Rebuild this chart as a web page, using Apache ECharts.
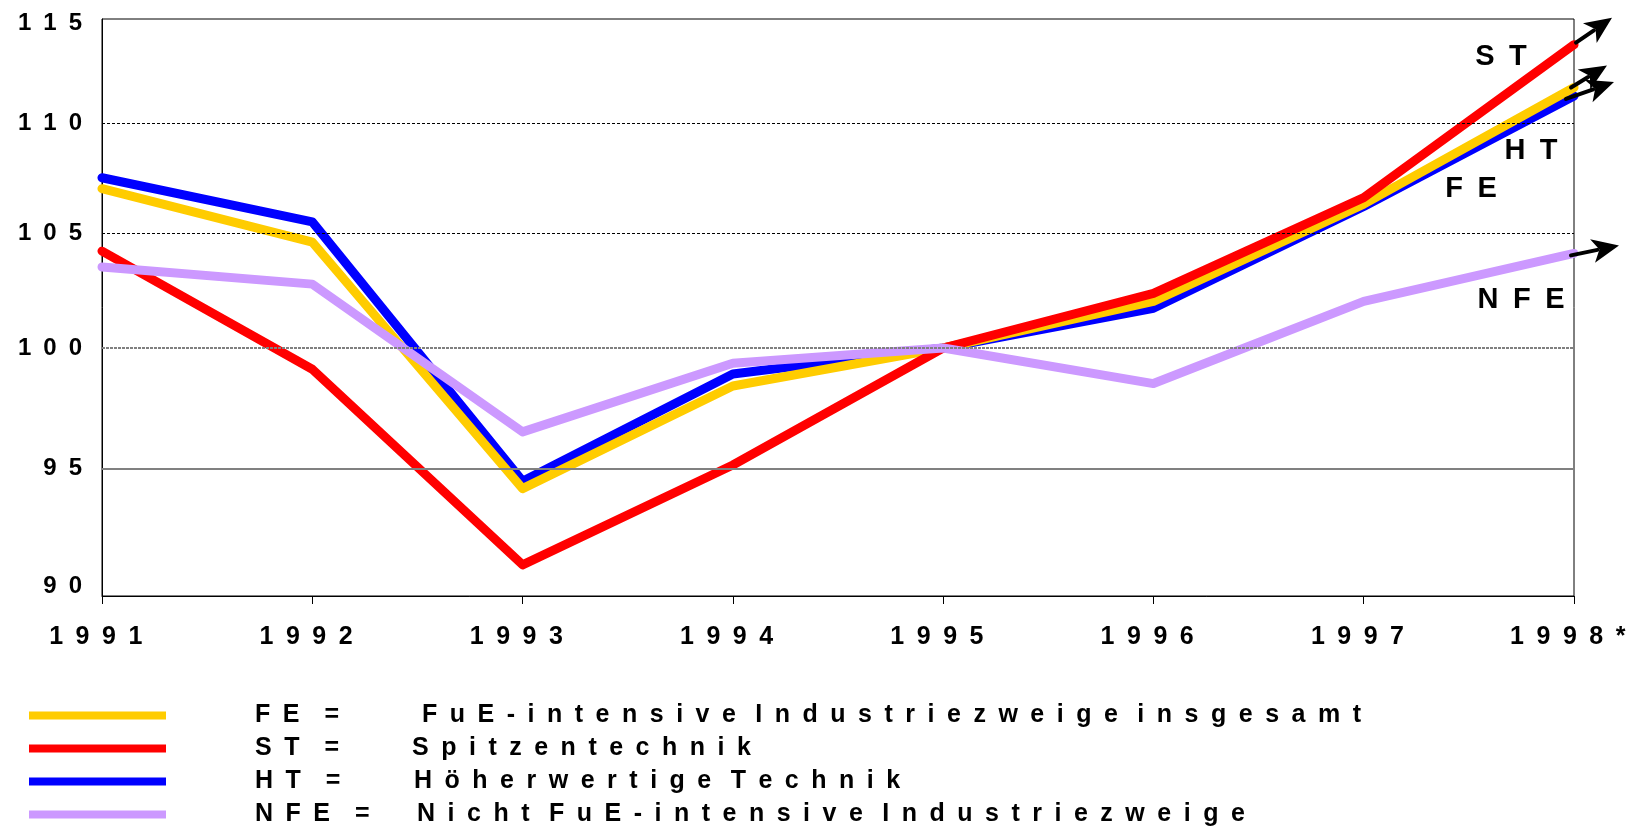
<!DOCTYPE html>
<html>
<head>
<meta charset="utf-8">
<script src="https://cdn.jsdelivr.net/npm/echarts@6/dist/echarts.min.js"></script>
<style>
html,body{margin:0;padding:0;background:#fff;}
#chart{width:1634px;height:830px;}
</style>
</head>
<body>
<div id="chart"></div>
<script>
// Daten (Index 1995 = 100)
var years = ['1991', '1992', '1993', '1994', '1995', '1996', '1997', '1998*'];
var yTicks = [90, 95, 100, 105, 110, 115];
var fe  = [107.0, 104.6, 94.2, 98.4, 100, 102.0, 106.3, 111.7];
var st  = [104.2, 99.1, 91.2, 95.15, 100, 102.35, 106.6, 113.75];
var ht  = [107.5, 105.5, 94.5, 98.9, 100, 101.7, 106.2, 111.3];
var nfe = [103.5, 102.75, 96.5, 99.35, 100, 98.5, 102.0, 104.1];
var codes = ['FE', 'ST', 'HT', 'NFE'];
var labels = ['FuE-intensive Industriezweige insgesamt', 'Spitzentechnik', 'Höherwertige Technik', 'Nicht FuE-intensive Industriezweige'];

var FONT = "'Liberation Sans', Arial, sans-serif";
var S = '\u2002';
// gesperrte Schrift wie im Original
function sp(s) {
    return s.split(' ').map(function (w) { return w.split('').join(S); }).join(S + ' ');
}

var chart = echarts.init(document.getElementById('chart'));

var lbl = {fontSize: 25, fontWeight: 'bold', fontFamily: FONT, color: '#000'};
var lgd = Object.assign({lineHeight: 25}, lbl);
var richCodes = {};
var descOffset = [167, 157, 159, 162];
codes.forEach(function (c, i) {
    richCodes['c' + i] = Object.assign({width: descOffset[i], padding: [0, 0, 0, 84]}, lgd);
});
richCodes.d = Object.assign({}, lgd);

var yl = {fontSize: 24, fontWeight: 'bold', fontFamily: FONT, color: '#000'};

function lineSeries(name, data, color) {
    return {
        name: name,
        type: 'line',
        data: data,
        showSymbol: false,
        symbol: 'none',
        lineStyle: {color: color, width: 9, cap: 'round', join: 'round'},
        itemStyle: {color: color},
        z: 3
    };
}

chart.setOption({
    animation: false,
    backgroundColor: '#fff',
    grid: {left: 102, right: 60, top: 19, bottom: 234, show: true, borderColor: '#000', borderWidth: 1, outerBoundsMode: 'none', containLabel: false},
    legend: {
        data: codes,
        orient: 'vertical',
        left: 29,
        top: 703,
        height: 200,
        padding: 0,
        itemWidth: 137,
        itemHeight: 8,
        itemGap: 8,
        icon: 'rect',
        selectedMode: false,
        formatter: function (name) {
            var i = codes.indexOf(name);
            return '{c' + i + '|' + sp(name) + S + S + '=}{d|' + sp(labels[i]) + '}';
        },
        textStyle: Object.assign({rich: richCodes}, lgd)
    },
    xAxis: {
        type: 'category',
        data: years,
        boundaryGap: false,
        axisLine: {lineStyle: {color: '#000', width: 1}},
        axisTick: {show: true, length: 8, interval: 0, lineStyle: {color: '#000'}},
        axisLabel: Object.assign({
            interval: 0,
            margin: 29,
            formatter: function (v) { return sp(v) + S; }
        }, lbl),
        splitLine: {show: false}
    },
    yAxis: {
        type: 'log',
        logBase: 10,
        min: 90,
        max: 115,
        axisLine: {show: true, lineStyle: {color: '#000', width: 1}},
        axisTick: {show: false},
        splitLine: {show: false},
        axisLabel: Object.assign({
            customValues: yTicks,
            margin: 20,
            rich: {
                lo: Object.assign({padding: [0, 0, 20, 0]}, yl),
                hi: Object.assign({padding: [8, 0, 0, 0]}, yl)
            },
            formatter: function (v) {
                var t = sp(String(Math.round(v)));
                if (Math.round(v) === yTicks[0]) return '{lo|' + t + '}';
                if (Math.round(v) === yTicks[yTicks.length - 1]) return '{hi|' + t + '}';
                return t;
            }
        }, yl)
    },
    series: [
        {
            name: 'grid',
            type: 'line',
            data: [],
            z: 1,
            markLine: {
                silent: true,
                symbol: ['none', 'none'],
                label: {show: false},
                data: [
                    {yAxis: 95, lineStyle: {type: 'solid', color: '#808080', width: 2}},
                    {yAxis: 100, lineStyle: {type: [3, 1], color: '#808080', width: 2}},
                    {yAxis: 105, lineStyle: {type: [3, 2], color: '#000', width: 1}},
                    {yAxis: 110, lineStyle: {type: [3, 2], color: '#000', width: 1}}
                ]
            }
        },
        lineSeries('HT', ht, '#0000ff'),
        lineSeries('FE', fe, '#ffcc00'),
        lineSeries('ST', st, '#ff0000'),
        lineSeries('NFE', nfe, '#cc99ff')
    ]
});

// Pfeile am Ende der Linien + Kürzel
function arrow(x1, y1, x2, y2) {
    var dx = x2 - x1, dy = y2 - y1, L = Math.sqrt(dx * dx + dy * dy);
    var ux = dx / L, uy = dy / L, hl = 27, hw = 12;
    var bx = x2 - ux * hl, by = y2 - uy * hl;
    return [
        {type: 'line', shape: {x1: x1, y1: y1, x2: bx + ux * 5, y2: by + uy * 5}, style: {stroke: '#000', lineWidth: 4, lineCap: 'round'}, z: 10},
        {type: 'polygon', shape: {points: [[x2, y2], [bx - uy * hw, by + ux * hw], [bx + ux * 7, by + uy * 7], [bx + uy * hw, by - ux * hw]]}, style: {fill: '#000'}, z: 10}
    ];
}
var last = years.length - 1;
var arrowSpec = [
    {data: st, s: [2, -2], t: [38, -27]},
    {data: fe, s: [-3, 0], t: [33, -22]},
    {data: ht, s: [-8, 3], t: [40, -14]},
    {data: nfe, s: [-3, 2], t: [45, -8]}
];
var els = [];
arrowSpec.forEach(function (a) {
    var p = chart.convertToPixel({xAxisIndex: 0, yAxisIndex: 0}, [years[last], a.data[last]]);
    els = els.concat(arrow(p[0] + a.s[0], p[1] + a.s[1], p[0] + a.t[0], p[1] + a.t[1]));
});
var tags = [['ST', 1501, 57], ['HT', 1531, 151], ['FE', 1471, 189], ['NFE', 1521, 300]];
tags.forEach(function (t) {
    els.push({type: 'text', x: t[1], y: t[2], z: 10, style: {text: sp(t[0]), fill: '#000', font: 'bold 29px ' + FONT, align: 'center', verticalAlign: 'middle'}});
});
chart.setOption({graphic: els});
</script>
</body>
</html>
